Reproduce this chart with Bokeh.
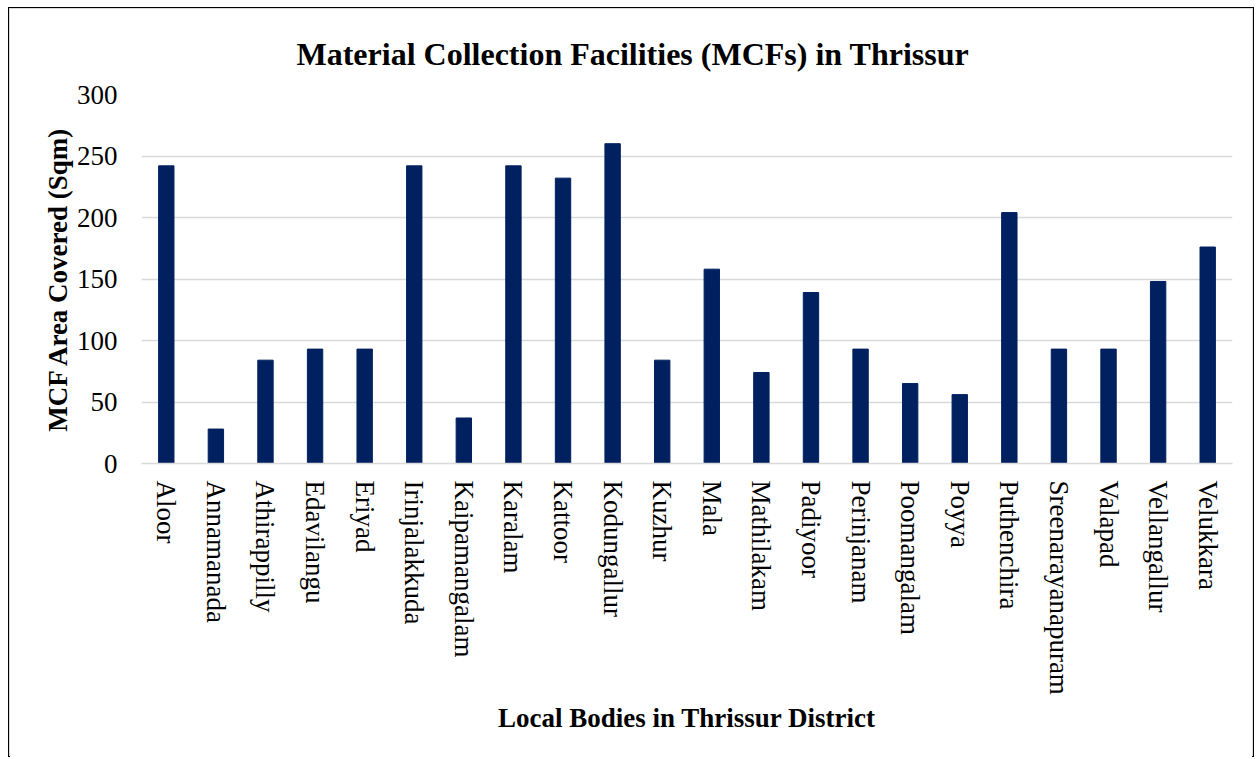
import math
from bokeh.plotting import figure
from bokeh.models import FactorRange, Range1d, FixedTicker
from bokeh.embed import file_html
from bokeh.resources import INLINE

categories = ["Aloor", "Annamanada", "Athirappilly", "Edavilangu", "Eriyad",
              "Irinjalakkuda", "Kaipamangalam", "Karalam", "Kattoor", "Kodungallur",
              "Kuzhur", "Mala", "Mathilakam", "Padiyoor", "Perinjanam",
              "Poomangalam", "Poyya", "Puthenchira", "Sreenarayanapuram", "Valapad",
              "Vellangallur", "Velukkara"]
area_sqm = [242, 28, 84, 93, 93,
            242, 37, 242, 232, 260,
            84, 158, 74, 139, 93,
            65, 56, 204, 93, 93,
            148, 176]
y_ticks = [0, 50, 100, 150, 200, 250, 300]
title_text = "Material Collection Facilities (MCFs) in Thrissur"

W, H = 1246, 750
SERIF = "Liberation Serif"

p = figure(x_range=FactorRange(*categories, range_padding=0),
           y_range=Range1d(0, 300),
           width=W, height=H, output_backend="svg", toolbar_location=None,
           title=title_text,
           min_border_left=131, min_border_right=24, min_border_top=85,
           min_border_bottom=296,
           styles={"margin-left": "8px", "margin-top": "7px",
                   "border-left": "2px solid #000000",
                   "border-top": "2px solid #000000",
                   "border-right": "2px solid #000000",
                   "outline": "1px solid #d9d9d9",
                   "outline-offset": "-2px"})

p.vbar(x=categories, top=area_sqm, width=0.31, color="#002060")

p.title.text_font = SERIF
p.title.text_font_size = "32px"
p.title.text_font_style = "bold"
p.title.text_color = "#000000"
p.title.align = "left"
p.title.offset = 155
p.title.standoff = 45

p.outline_line_color = None
p.background_fill_color = "white"
p.border_fill_color = "white"

p.xgrid.grid_line_color = None
p.ygrid.grid_line_color = "#d9d9d9"
p.ygrid.grid_line_width = 1.5

p.yaxis.ticker = FixedTicker(ticks=y_ticks)
p.yaxis.axis_line_color = None
p.yaxis.major_tick_line_color = None
p.yaxis.minor_tick_line_color = None
p.yaxis.major_label_text_font = SERIF
p.yaxis.major_label_text_font_size = "27px"
p.yaxis.major_label_text_color = "#000000"
p.yaxis.major_label_standoff = 18
p.yaxis.axis_label = "MCF Area Covered (Sqm)"
p.yaxis.axis_label_text_font = SERIF
p.yaxis.axis_label_text_font_size = "27px"
p.yaxis.axis_label_text_font_style = "bold"
p.yaxis.axis_label_text_color = "#000000"
p.yaxis.axis_label_standoff = 1

p.xaxis.axis_line_color = "#d9d9d9"
p.xaxis.axis_line_width = 1.5
p.xaxis.major_tick_line_color = None
p.xaxis.minor_tick_line_color = None
p.xaxis.major_label_orientation = -math.pi / 2
p.xaxis.major_label_text_font = SERIF
p.xaxis.major_label_text_font_size = "27px"
p.xaxis.major_label_text_color = "#000000"
p.xaxis.major_label_standoff = 11
p.xaxis.axis_label = "Local Bodies in Thrissur District"
p.xaxis.axis_label_text_font = SERIF
p.xaxis.axis_label_text_font_size = "27px"
p.xaxis.axis_label_text_font_style = "bold"
p.xaxis.axis_label_text_color = "#000000"
p.xaxis.axis_label_standoff = 5

open("out.html", "w").write(file_html(p, INLINE))
